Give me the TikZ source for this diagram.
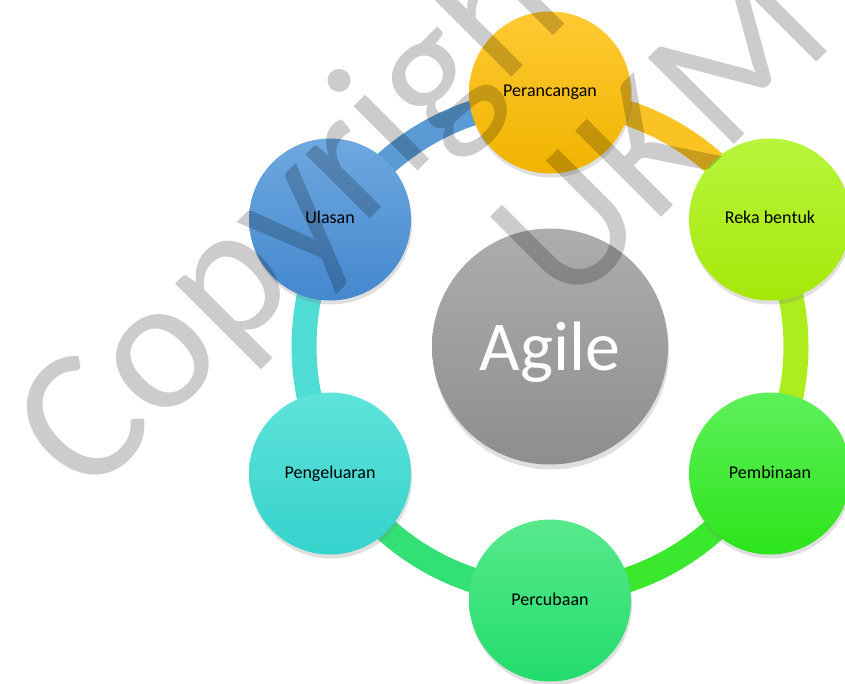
\documentclass[tikz,border=0pt]{standalone}
\usepackage{fontspec}
\setmainfont{Carlito}
\usetikzlibrary{positioning,shadows,backgrounds}
\definecolor{perTop}{HTML}{FFC933}\definecolor{perBot}{HTML}{F0B400}
\definecolor{rekTop}{HTML}{B8F53C}\definecolor{rekBot}{HTML}{A6E80A}
\definecolor{pemTop}{HTML}{5EF05A}\definecolor{pemBot}{HTML}{2CE41A}
\definecolor{pcbTop}{HTML}{58E98C}\definecolor{pcbBot}{HTML}{22DC6C}
\definecolor{pglTop}{HTML}{5EE3DA}\definecolor{pglBot}{HTML}{35D2CC}
\definecolor{ulaTop}{HTML}{6EA8E0}\definecolor{ulaBot}{HTML}{4488CE}
\definecolor{agTop}{HTML}{ADADAD}\definecolor{agBot}{HTML}{8E8E8E}
\definecolor{ulaRing}{HTML}{5B9BD5}
\tikzset{stage/.style={circle, minimum size=162pt, inner sep=0pt, font=\fontsize{18}{20}\selectfont, text height=12.5pt, text depth=3.5pt, drop shadow={opacity=0.25, shadow xshift=1pt, shadow yshift=-4pt}}}
\tikzset{hubbox/.style={circle, minimum size=236pt, inner sep=0pt, text=white, font=\fontsize{70}{80}\selectfont, text depth=0pt, top color=agTop, bottom color=agBot, drop shadow={opacity=0.25, shadow xshift=1pt, shadow yshift=-5pt}}}
\tikzset{ringarc/.style={line width=25pt}}
\tikzset{wmark/.style={rotate=45, inner sep=0pt, text=black, text opacity=0.2, font=\fontsize{190}{230}\selectfont}}

\begin{document}
\begin{tikzpicture}[x=1pt, y=1pt]
		\useasboundingbox (0,0) rectangle (845,683);
		\coordinate (hub) at (550,336.5);
		\node[hubbox] (agile) at (hub) {Agile};
		\node[stage, top color=perTop, bottom color=perBot] (per) at ([shift={(90:254)}]hub) {Perancangan};
		\node[stage, top color=rekTop, bottom color=rekBot] (rek) at ([shift={(30:254)}]hub) {Reka bentuk};
		\node[stage, top color=pemTop, bottom color=pemBot] (pem) at ([shift={(-30:254)}]hub) {Pembinaan};
		\node[stage, top color=pcbTop, bottom color=pcbBot] (pcb) at ([shift={(-90:254)}]hub) {Percubaan};
		\node[stage, top color=pglTop, bottom color=pglBot] (pgl) at ([shift={(210:254)}]hub) {Pengeluaran};
		\node[stage, top color=ulaTop, bottom color=ulaBot] (ula) at ([shift={(150:254)}]hub) {Ulasan};
		% ring behind the stages, one arc per step
		\begin{scope}[on background layer]
			\draw[ringarc, draw=ulaRing] ([shift={(150:246)}]hub) arc[start angle=150, delta angle=-60, radius=246];
			\draw[ringarc, draw=perTop!70!perBot] ([shift={(90:246)}]hub) arc[start angle=90, delta angle=-60, radius=246];
			\draw[ringarc, draw=rekTop!40!rekBot] ([shift={(30:246)}]hub) arc[start angle=30, delta angle=-60, radius=246];
			\draw[ringarc, draw=pemTop!30!pemBot] ([shift={(-30:246)}]hub) arc[start angle=-30, delta angle=-60, radius=246];
			\draw[ringarc, draw=pcbTop!30!pcbBot] ([shift={(-90:246)}]hub) arc[start angle=-90, delta angle=-60, radius=246];
			\draw[ringarc, draw=pglTop!60!pglBot] ([shift={(210:246)}]hub) arc[start angle=210, delta angle=-60, radius=246];
		\end{scope}
		\node[wmark] (wcopy) at (317,482) {Copyright};
		\node[wmark] (wukm) at (660,549) {UKM};
	\end{tikzpicture}
\end{document}
